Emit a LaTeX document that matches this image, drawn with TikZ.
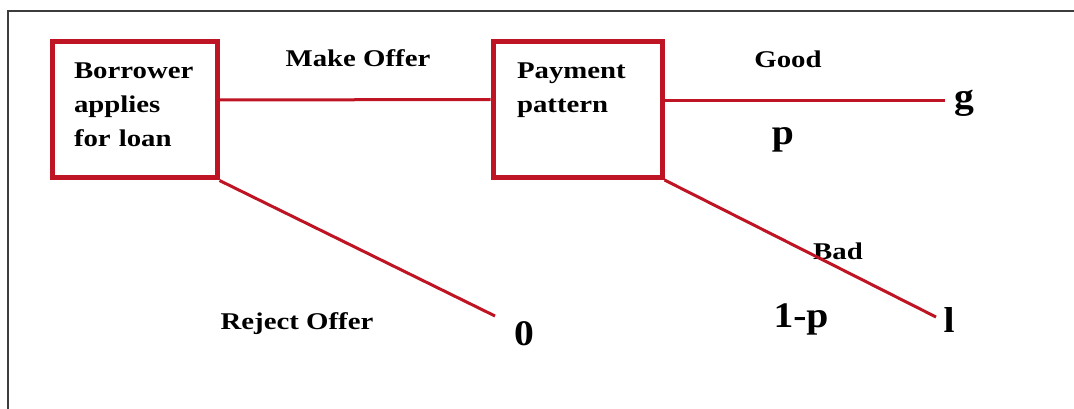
\documentclass[tikz,border=0pt]{standalone}
\usepackage{fontspec}
\setmainfont{Liberation Serif}[FakeStretch=1.2]
\newfontfamily\bigserif{Liberation Serif}[FakeStretch=1.1]
\definecolor{boxred}{RGB}{190,20,35}
\definecolor{framegray}{RGB}{60,60,60}

\begin{document}
\begin{tikzpicture}[x = 1pt, y = -1pt,
  box/.style = {draw = boxred, line width = 5pt, rectangle, minimum height = 136pt,
    inner xsep = 0pt, text width = 121pt, align = left,
    font = \fontsize{24}{34}\selectfont\bfseries},
  branch/.style = {draw = boxred, line width = 3pt},
  lbl/.style = {anchor = base, inner sep = 0pt, font = \fontsize{24}{34}\selectfont\bfseries},
  pay/.style = {anchor = base, inner sep = 0pt, font = \bigserif\bfseries\fontsize{36}{40}\selectfont}]
\useasboundingbox (0,0) rectangle (1074,409);
\draw[color = framegray, line width = 1.2pt] (8,409) -- (8,11) -- (1074,11);
\node[box, minimum width = 165pt] (b0) at (134.5,110) {Borrower\\applies\\for loan\strut};
\node[box, minimum width = 169pt] (b1) at (577.5,109.5) {Payment\\pattern\\\strut};
\node[pay] (g) at (964,109) {g};
\node[pay] (l) at (949,332) {l};
\node[pay] (z) at (524,345) {0};
\node[pay] (p) at (783,145) {p};
\node[pay] (q) at (801,327) {1-p};
\node[lbl] (mo) at (358,67) {Make Offer};
\node[lbl] (ro) at (297,329) {Reject Offer};
\node[lbl] (gd) at (788,68) {Good};
\node[lbl] (bd) at (838,259) {Bad};
\coordinate (e0) at (495,316);
\coordinate (e1) at (945,100.5);
\coordinate (e2) at (936,317);
\draw[branch] ([yshift = 10pt]b0.east) -- ([yshift = 10pt]b1.west);
\draw[branch] ([yshift = 9pt]b1.east) -- (e1);
\draw[branch] (b0.south east) -- (e0);
\draw[branch] (b1.south east) -- (e2);
\end{tikzpicture}
\end{document}
